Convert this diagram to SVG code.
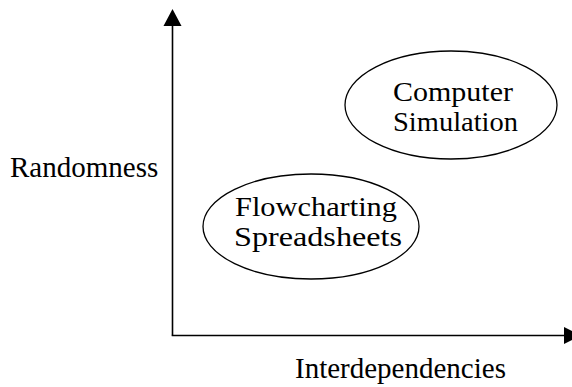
<svg xmlns="http://www.w3.org/2000/svg" width="572" height="387" viewBox="0 0 572 387">
<style>
text{font-family:"Liberation Serif","Times New Roman",serif;font-size:29px;fill:#000}
.node text{font-size:28px}
.ax{stroke:#000;stroke-width:1.6;fill:none}
.node ellipse{fill:#fff;stroke:#000;stroke-width:1.3}
</style>
<rect width="572" height="387" fill="#fff"/>
<g id="axes">
<line class="ax" x1="172.5" y1="24" x2="172.5" y2="335.5"/>
<line class="ax" x1="171.7" y1="335.5" x2="566" y2="335.5"/>
<polygon points="172.5,9 163.5,26 181.5,26" fill="#000"/>
<polygon points="581,335.5 564,327 564,344" fill="#000"/>
</g>
<g id="sim" class="node">
<ellipse cx="451" cy="105" rx="106" ry="54"/>
<text x="393" y="101" textLength="120" lengthAdjust="spacingAndGlyphs">Computer</text>
<text x="393" y="131" textLength="125" lengthAdjust="spacingAndGlyphs">Simulation</text>
</g>
<g id="flow" class="node">
<ellipse cx="311" cy="226.5" rx="108" ry="52.5"/>
<text x="235" y="215.5" textLength="162" lengthAdjust="spacingAndGlyphs">Flowcharting</text>
<text x="234" y="245.5" textLength="168" lengthAdjust="spacingAndGlyphs">Spreadsheets</text>
</g>
<text x="10" y="177">Randomness</text>
<text x="295" y="378">Interdependencies</text>
</svg>
